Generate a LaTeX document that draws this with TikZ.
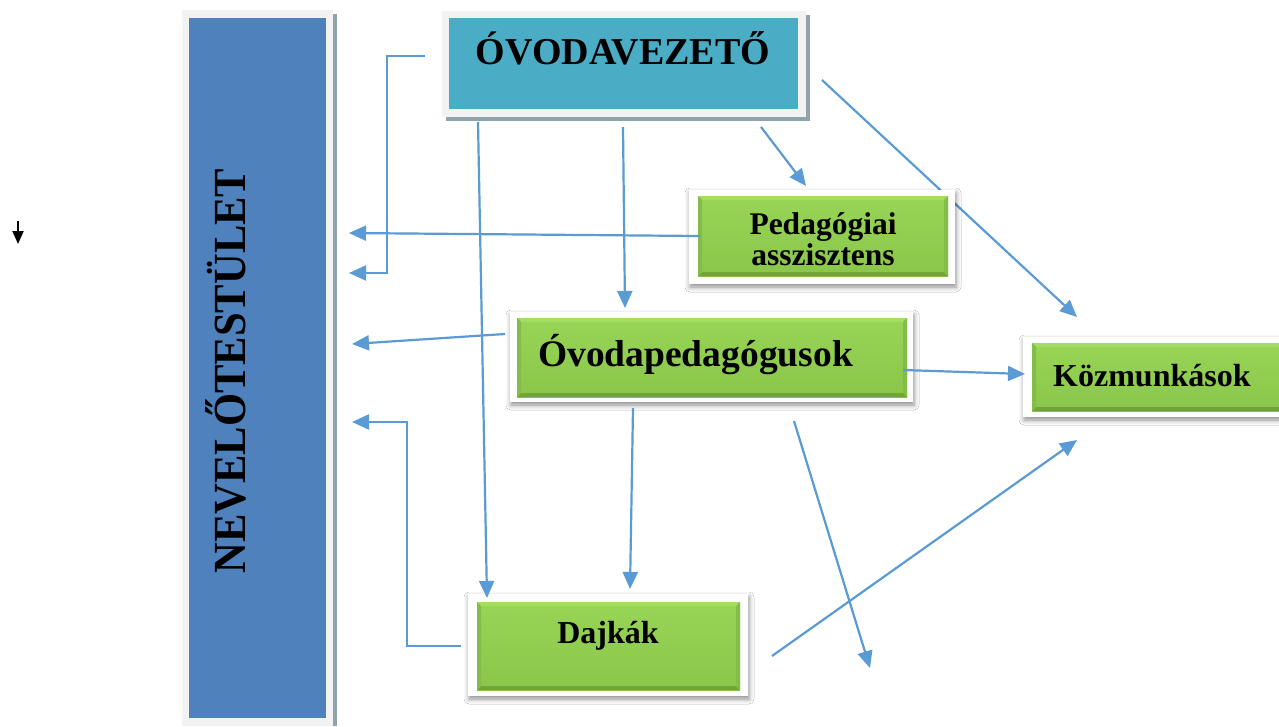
\documentclass[tikz,border=0pt]{standalone}
\usepackage{fontspec}
\setmainfont{Liberation Serif}
\usetikzlibrary{arrows.meta,shadows.blur,calc}
\definecolor{arr}{HTML}{5B9BD5}
\definecolor{nevblue}{HTML}{4F81BD}
\definecolor{teal}{HTML}{4BACC6}
\definecolor{lightframe}{HTML}{F2F2F2}
\definecolor{hardshadow}{HTML}{8FA3AD}
\definecolor{gmid}{HTML}{92D050}
\definecolor{gtopc}{HTML}{98D456}
\definecolor{gbotc}{HTML}{8AC649}
\definecolor{bevtop}{HTML}{A4DE60}
\definecolor{bevbot}{HTML}{72A43A}
\definecolor{bevside}{HTML}{84BC4A}
\tikzset{
  conn/.style={draw=arr, line width=2.2pt, -{Triangle[length=17pt,width=15pt]}},
  whiteframe/.style={fill=white, draw=none, inner sep=0pt,
    blur shadow={shadow blur radius=5pt, shadow xshift=1pt, shadow yshift=-3pt, shadow opacity=45}},
  grayframe/.style={fill=lightframe, draw=none, inner sep=0pt},
  greenbox/.style={draw=none, inner sep=0pt, top color=gtopc, bottom color=gbotc,
    path picture={
      \fill[bevtop] (path picture bounding box.north west) -- (path picture bounding box.north east)
        -- ([xshift=-4pt,yshift=-4pt]path picture bounding box.north east)
        -- ([xshift=4pt,yshift=-4pt]path picture bounding box.north west) -- cycle;
      \fill[bevbot] (path picture bounding box.south west) -- (path picture bounding box.south east)
        -- ([xshift=-4pt,yshift=4pt]path picture bounding box.south east)
        -- ([xshift=4pt,yshift=4pt]path picture bounding box.south west) -- cycle;
      \fill[bevside] (path picture bounding box.north west) -- ([xshift=4pt,yshift=-4pt]path picture bounding box.north west)
        -- ([xshift=4pt,yshift=4pt]path picture bounding box.south west) -- (path picture bounding box.south west) -- cycle;
      \fill[bevside] (path picture bounding box.north east) -- ([xshift=-4pt,yshift=-4pt]path picture bounding box.north east)
        -- ([xshift=-4pt,yshift=4pt]path picture bounding box.south east) -- (path picture bounding box.south east) -- cycle;
    }},
  lbl/.style={inner sep=0pt, font=\bfseries},
}
\begin{document}
\begin{tikzpicture}[x=1pt,y=-1pt]
\useasboundingbox (0,0) rectangle (1279,726);
\fill[white] (0,0) rectangle (1279,726);

% small black arrow at left
\coordinate (ba1) at (18,221);
\coordinate (ba2) at (18,244);
\draw[line width=1.8pt, -{Triangle[length=13pt,width=11pt]}] (ba1) -- (ba2);

% NEVELOTESTULET column
\fill[hardshadow] (333,14) rectangle (337,726);
\node[grayframe, minimum width=151pt, minimum height=716pt] (nevframe) at (257.5,368) {};
\node[fill=nevblue, inner sep=0pt, minimum width=137pt, minimum height=700pt] (nev) at (257.5,368) {};
\node[lbl, rotate=90, font=\fontsize{46}{46}\selectfont\bfseries] (nevtext) at (226,371) {\scalebox{0.926}[1]{NEVELŐTESTÜLET}};

% OVODAVEZETO
\fill[hardshadow] (446,15) rectangle (810,121);
\node[grayframe, minimum width=364pt, minimum height=106pt] (vezframe) at (624,64) {};
\node[fill=teal, inner sep=0pt, minimum width=349pt, minimum height=91pt] (vez) at (623.5,63.5) {};
\node[lbl, anchor=base, font=\fontsize{38}{38}\selectfont\bfseries] (veztext) at (623,64) {ÓVODAVEZETŐ};

% long line behind Pedagogiai box
\coordinate (lA) at (822,80);
\coordinate (lB) at (1077,317);
\draw[conn] (lA) -- (lB);

% Pedagogiai asszisztens
\node[whiteframe, minimum width=266pt, minimum height=94pt] (pedframe) at (822,237) {};
\node[greenbox, minimum width=250pt, minimum height=80pt] (ped) at (823,236) {};
\node[lbl, anchor=base, font=\fontsize{31.5}{31.5}\selectfont\bfseries] (pedtext1) at (823,234) {Pedagógiai};
\node[lbl, anchor=base, font=\fontsize{31.5}{31.5}\selectfont\bfseries] (pedtext2) at (823,265) {asszisztens};

% Ovodapedagogusok
\node[whiteframe, minimum width=403pt, minimum height=90pt] (ovpframe) at (711.5,357) {};
\node[greenbox, minimum width=390pt, minimum height=79pt] (ovp) at (712,357.5) {};
\node[lbl, anchor=base west, font=\fontsize{37.5}{37.5}\selectfont\bfseries] (ovptext) at (538,366) {Óvodapedagógusok};

% Kozmunkasok
\node[whiteframe, minimum width=262pt, minimum height=80pt] (kozframe) at (1154,377) {};
\node[greenbox, minimum width=253pt, minimum height=68pt] (koz) at (1158.5,377) {};
\node[lbl, anchor=base west, font=\fontsize{32}{32}\selectfont\bfseries] (koztext) at (1053,386) {Közmunkások};

% Dajkak
\node[whiteframe, minimum width=280pt, minimum height=102pt] (dajframe) at (608,645) {};
\node[greenbox, minimum width=263pt, minimum height=88pt] (daj) at (608.5,646) {};
\node[lbl, anchor=base, font=\fontsize{32}{32}\selectfont\bfseries] (dajtext) at (608,643) {Dajkák};

% connectors
\coordinate (b1) at (425,56);
\coordinate (b2) at (387,56);
\coordinate (b3) at (387,273);
\coordinate (b4) at (349,273);
\draw[conn] (b1) -- (b2) -- (b3) -- (b4);

\coordinate (p1) at (700,236);
\coordinate (p2) at (349,233);
\draw[conn] (p1) -- (p2);

\coordinate (v1) at (478,122);
\coordinate (v2) at (487,598);
\draw[conn] (v1) -- (v2);

\coordinate (w1) at (623,127);
\coordinate (w2) at (625,308);
\draw[conn] (w1) -- (w2);

\coordinate (x1) at (761,127);
\coordinate (x2) at (806,186);
\draw[conn] (x1) -- (x2);

\coordinate (o1) at (505,334);
\coordinate (o2) at (352,344);
\draw[conn] (o1) -- (o2);

\coordinate (o3) at (903,370);
\coordinate (o4) at (1025,374);
\draw[conn] (o3) -- (o4);

\coordinate (o5) at (633,408);
\coordinate (o6) at (630,589);
\draw[conn] (o5) -- (o6);

\coordinate (o7) at (794,421);
\coordinate (o8) at (870,668);
\draw[conn] (o7) -- (o8);

\coordinate (d1) at (772,656);
\coordinate (d2) at (1077,440);
\draw[conn] (d1) -- (d2);

\coordinate (e1) at (461,646);
\coordinate (e2) at (407,646);
\coordinate (e3) at (407,422);
\coordinate (e4) at (352,422);
\draw[conn] (e1) -- (e2) -- (e3) -- (e4);
\end{tikzpicture}
\end{document}
